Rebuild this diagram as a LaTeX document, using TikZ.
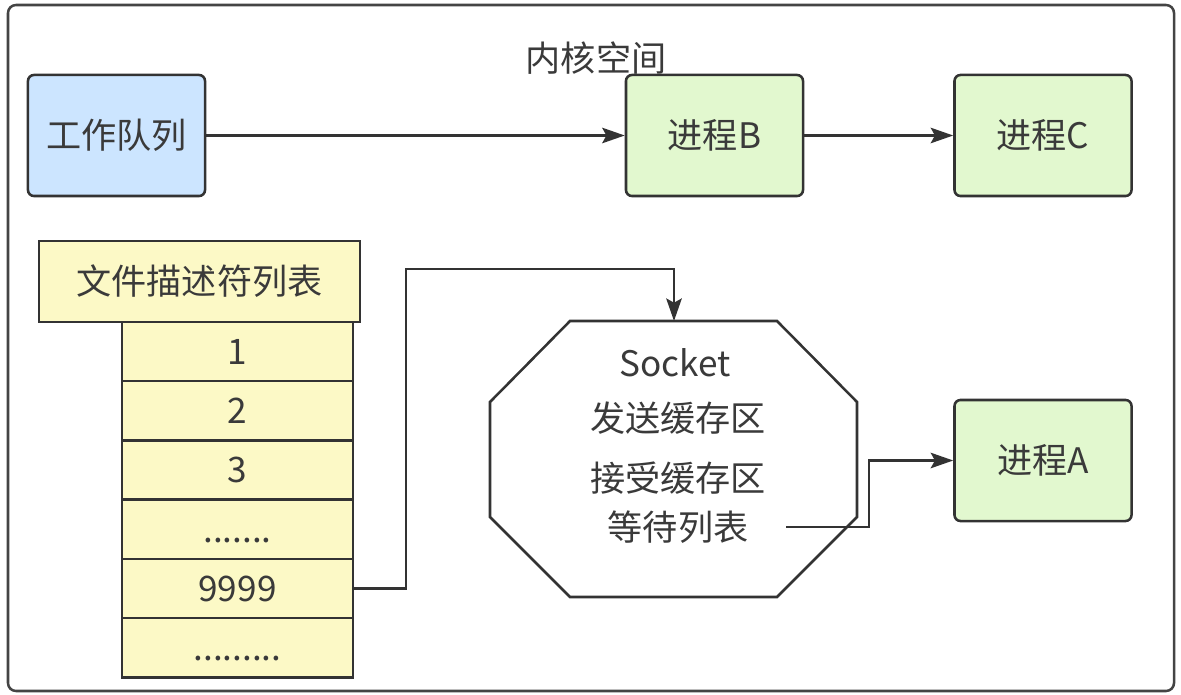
\documentclass[tikz,border=0pt]{standalone}
\usepackage{fontspec}
\setmainfont{Noto Sans CJK SC}
\usepackage{xcolor}
\usetikzlibrary{positioning,calc,arrows.meta}
\definecolor{queueblue}{HTML}{CCE5FF}
\definecolor{procgreen}{HTML}{E2F8CF}
\definecolor{fdyellow}{HTML}{FCF9C6}
\definecolor{linegray}{HTML}{333333}
\definecolor{framegray}{HTML}{444444}
\definecolor{textgray}{HTML}{3A3A3A}
\tikzset{
  box/.style={draw=linegray, line width=1.8pt, rounded corners=0.15cm, minimum width=4.425cm, minimum height=3.025cm, text=textgray},
  procbox/.style={box, fill=procgreen},
  fdcell/.style={draw=linegray, line width=1.8pt, fill=fdyellow, minimum width=5.775cm, minimum height=1.48cm, text height=0.64cm, text depth=0pt, outer sep=0pt, text=textgray},
  flow/.style={draw=linegray, line width=1.8pt, -{Stealth[length=16pt,width=11pt,inset=3pt]}},
  socktext/.style={text=textgray}
}

\begin{document}
\begin{tikzpicture}[x=0.025cm, y=-0.025cm, font=\fontsize{25}{30}\selectfont]
        \useasboundingbox (0,0) rectangle (1181,695);
        \draw[draw=framegray, line width=1.8pt, rounded corners=0.2cm] (8,5) rectangle (1174,691);
        \node[text=textgray] (kernel) at (596,58) {内核空间};

        \node[box, fill=queueblue] (queue) at (116.5,135.5) {工作队列};
        \node[procbox] (procB) at (714.5,135.5) {进程B};
        \node[procbox] (procC) at (1043,135.5) {进程C};
        \node[procbox] (procA) at (1043,460.5) {进程A};

        % descriptor table
        \node[fdcell, minimum width=8.025cm, minimum height=2.025cm] (fdhead) at (199.5,281.5) {文件描述符列表};
        \node[fdcell, anchor=north] (fd1) at (237.5,322) {1};
        \node[fdcell, below=0pt of fd1] (fd2) {2};
        \node[fdcell, below=0pt of fd2] (fd3) {3};
        \node[fdcell, below=0pt of fd3] (fddots) {.......};
        \node[fdcell, below=0pt of fddots] (fd9999) {9999};
        \node[fdcell, below=0pt of fd9999] (fdmore) {.........};

        % socket
        \coordinate (sock) at (673.5,459);
        \draw[draw=linegray, line width=1.8pt] ($(sock)+(-103.5,-138)$) -- ++(207,0) -- ++(80,81) -- ++(0,115) -- ++(-80,80) -- ++(-207,0) -- ++(-80,-80) -- ++(0,-115) -- cycle;
        \node[socktext] (sockname) at (675,363) {Socket};
        \node[socktext] (sendbuf) at (678,418) {发送缓存区};
        \node[socktext] (recvbuf) at (678,478) {接受缓存区};
        \node[socktext] (waitlist) at (678,527) {等待列表};
        \coordinate (socktop) at ($(sock)+(0.5,-138)$);
        \coordinate (waitout) at (786,527);

        \draw[flow] (queue) -- (procB);
        \draw[flow] (procB) -- (procC);
        \draw[flow] (fd9999.east) -- ++(53,0) |- ($(socktop)+(0,-52)$) -- (socktop);
        \draw[flow] (waitout) -- ++(83,0) |- (procA);
    \end{tikzpicture}
\end{document}
